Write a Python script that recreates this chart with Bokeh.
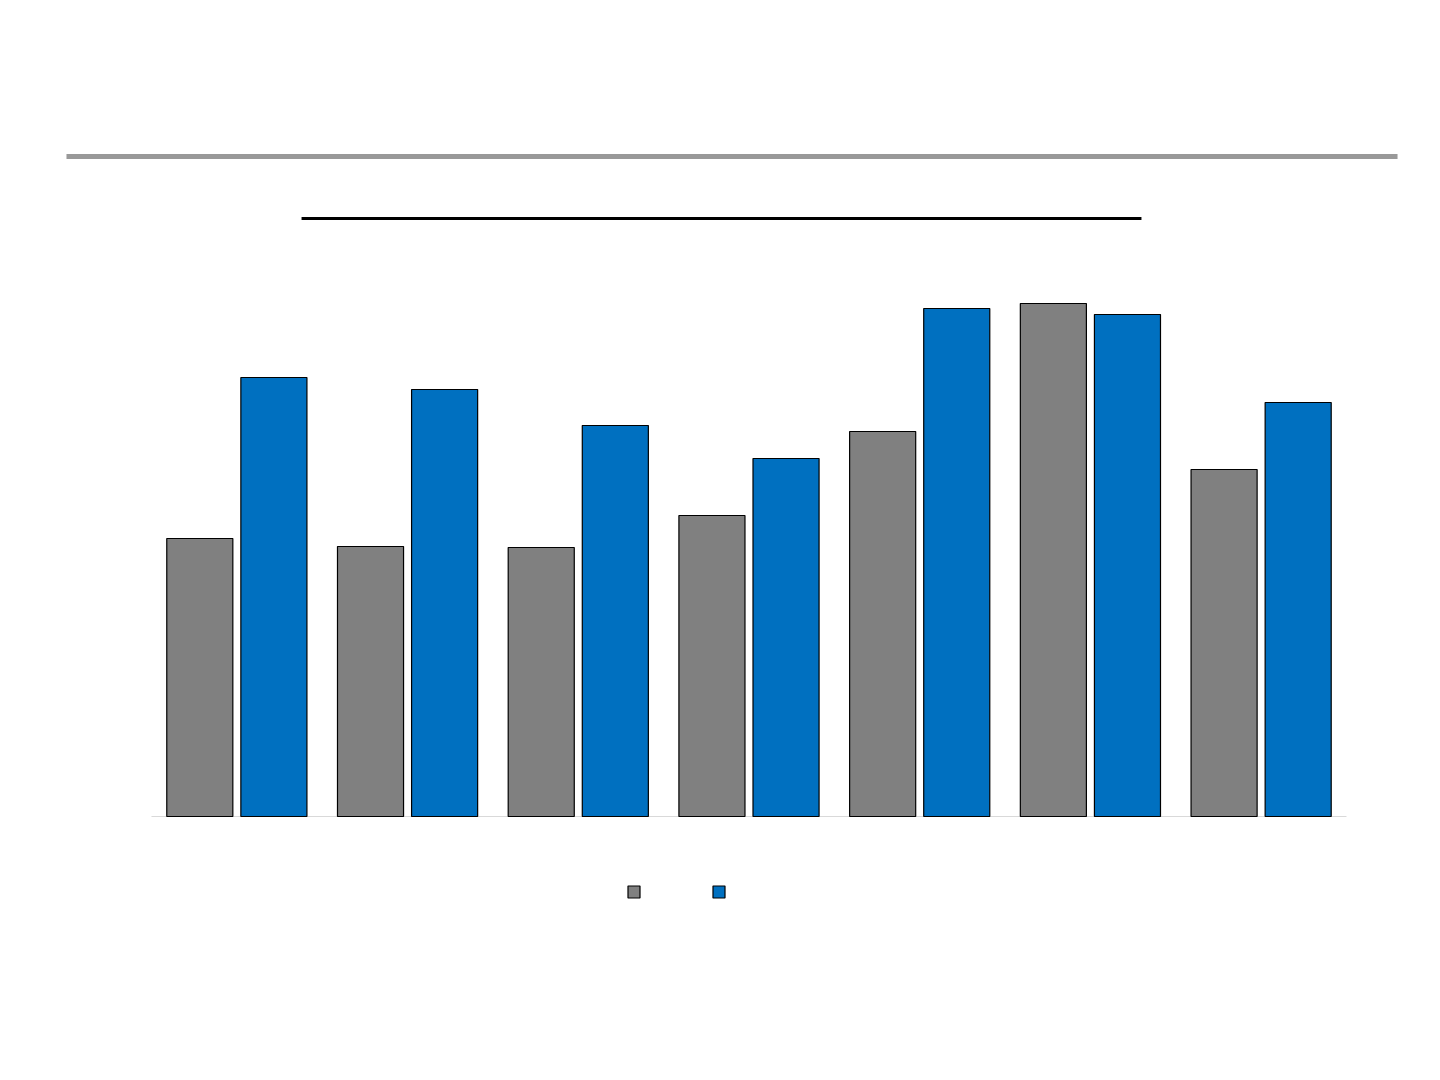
from bokeh.plotting import figure
from bokeh.models import Range1d, ColumnDataSource, Legend, LegendItem
from bokeh.embed import file_html
from bokeh.resources import INLINE

# Data (no labels are shown in the reference)
categories = ["1", "2", "3", "4", "5", "6", "7"]
series_a = [55.6, 54.0, 53.8, 60.2, 77.0, 102.6, 69.4]   # gray
series_b = [87.8, 85.4, 78.2, 71.6, 101.6, 100.4, 82.8]  # blue

W, H = 1424, 1064
p = figure(width=W, height=H, output_backend="svg", toolbar_location=None,
           x_axis_type=None, y_axis_type=None,
           x_range=Range1d(-0.8845, 7.457), y_range=Range1d(-49.6, 163.2),
           min_border=0, min_border_left=0, min_border_right=0,
           min_border_top=0, min_border_bottom=0)
p.outline_line_color = None
p.grid.visible = False
p.background_fill_color = "white"

idx = list(range(len(categories)))
src = ColumnDataSource(dict(
    xa=[i + 0.5 - 0.217 for i in idx],
    xb=[i + 0.5 + 0.217 for i in idx],
    a=series_a, b=series_b, cat=categories))

# baseline
p.segment(x0=[0], x1=[len(categories)], y0=[0], y1=[0], line_color="#d9d9d9", line_width=1)

ra = p.vbar(x="xa", top="a", bottom=0, width=0.387, source=src,
            fill_color="#808080", line_color="black", line_width=1.2)
rb = p.vbar(x="xb", top="b", bottom=0, width=0.387, source=src,
            fill_color="#0070C0", line_color="black", line_width=1.2)

# decorative rules
p.segment(x0=[-0.498], x1=[7.299], y0=[132.0], y1=[132.0], line_color="#999999", line_width=5)
p.segment(x0=[0.879], x1=[5.799], y0=[119.6], y1=[119.6], line_color="black", line_width=3)

legend = Legend(items=[LegendItem(label=" ", renderers=[ra]),
                       LegendItem(label=" ", renderers=[rb])],
                orientation="horizontal", location=(626, 165),
                glyph_width=15, glyph_height=15, label_width=60, label_height=15,
                label_standoff=4, spacing=6, padding=0, margin=0,
                border_line_color=None, background_fill_alpha=0,
                label_text_font_size="10px")
p.add_layout(legend)

open("out.html", "w").write(file_html(p, INLINE))
